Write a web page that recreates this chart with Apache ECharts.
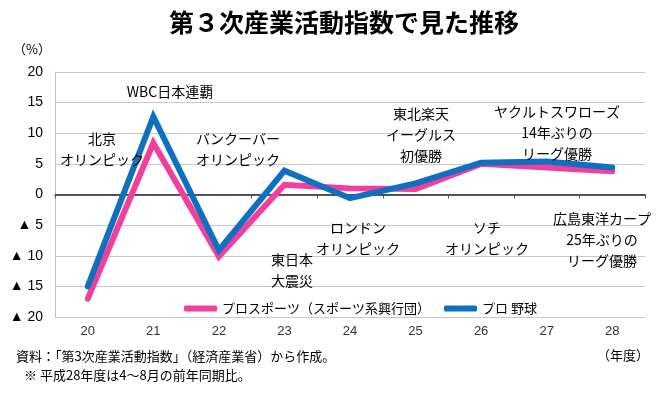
<!DOCTYPE html>
<html><head><meta charset="utf-8">
<script src="https://cdn.jsdelivr.net/npm/echarts@6/dist/echarts.min.js"></script>
<style>html,body{margin:0;padding:0;background:#fff}#c{width:670px;height:398px}</style>
</head><body><div id="c"></div>
<script>
const categories = ['20', '21', '22', '23', '24', '25', '26', '27', '28'];
const seriesNames = ['プロスポーツ（スポーツ系興行団）', 'プロ 野球'];
const proSports = [-17.0, 8.4, -10.1, 1.6, 1.0, 0.9, 5.0, 4.4, 3.8];
const proBaseball = [-15.0, 12.7, -9.1, 3.9, -0.6, 1.8, 5.2, 5.4, 4.4];
const yMin = -20, yMax = 20, yStep = 5;
const titleText = '第３次産業活動指数で見た推移';
const yUnit = '（%）';
const xUnit = '（年度）';
const notes = ['資料：「第3次産業活動指数」（経済産業省）から作成。', '※ 平成28年度は4〜8月の前年同期比。'];
const annotations = [
  ['WBC日本連覇', 170, 92],
  ['北京\nオリンピック', 102, 149],
  ['バンクーバー\nオリンピック', 238, 149],
  ['東日本\n大震災', 292, 270],
  ['ロンドン\nオリンピック', 358, 238],
  ['東北楽天\nイーグルス\n初優勝', 421, 135],
  ['ソチ\nオリンピック', 487, 238],
  ['ヤクルトスワローズ\n14年ぶりの\nリーグ優勝', 557, 133],
  ['広島東洋カープ\n25年ぶりの\nリーグ優勝', 602, 240]
];

const JP = '"Noto Sans CJK JP", sans-serif';
const NUM = '"Liberation Sans", "Noto Sans CJK JP", sans-serif';
const chart = echarts.init(document.getElementById('c'), null, {renderer: 'canvas'});

const graphics = [
  {type: 'text', x: 344, y: 22, style: {text: titleText, font: 'bold 25px ' + JP, fill: '#000', align: 'center', verticalAlign: 'middle'}},
  {type: 'text', x: 32, y: 49, style: {text: yUnit, font: '13px ' + JP, fill: '#000', align: 'center', verticalAlign: 'middle'}},
  {type: 'text', x: 623, y: 355, style: {text: xUnit, font: '13px ' + JP, fill: '#000', align: 'center', verticalAlign: 'middle'}},
  {type: 'text', x: 16, y: 356, style: {text: notes[0], font: '13px ' + JP, fill: '#000', align: 'left', verticalAlign: 'middle'}},
  {type: 'text', x: 24, y: 375, style: {text: notes[1], font: '13px ' + JP, fill: '#000', align: 'left', verticalAlign: 'middle'}}
];
annotations.forEach(a => graphics.push({
  type: 'text', x: a[1], y: a[2], z: 100,
  style: {text: a[0], font: '14px ' + JP, fill: '#000', align: 'center', verticalAlign: 'middle', lineHeight: 21}
}));

chart.setOption({
  animation: false,
  backgroundColor: '#fff',
  grid: {left: 55, right: 25, top: 72, bottom: 81, containLabel: false},
  legend: {
    data: seriesNames, left: 179, top: 297, icon: 'roundRect',
    itemWidth: 33, itemHeight: 6, itemGap: 14,
    textStyle: {fontSize: 13, fontFamily: JP, color: '#000'}
  },
  xAxis: [
    {type: 'category', data: categories, position: 'bottom', boundaryGap: true,
     axisLine: {show: false, onZero: false}, axisTick: {show: false},
     axisLabel: {margin: 8, fontSize: 13, fontFamily: NUM, color: '#333'}},
    {type: 'category', data: categories, position: 'top', boundaryGap: true,
     axisLine: {show: true, onZero: true, lineStyle: {color: '#222', width: 1.5}},
     axisTick: {show: true, inside: true, length: 4, lineStyle: {color: '#555'}},
     axisLabel: {show: false}}
  ],
  yAxis: {
    type: 'value', min: yMin, max: yMax, interval: yStep,
    axisLine: {show: true, lineStyle: {color: '#bfbfbf'}},
    axisTick: {show: false},
    splitLine: {show: true, lineStyle: {color: '#c8c8c8', width: 1}},
    axisLabel: {margin: 12, fontSize: 14, fontFamily: NUM, color: '#000',
      formatter: v => v < 0 ? '▲ ' + (-v) : String(v)}
  },
  series: [
    {name: seriesNames[0], type: 'line', xAxisIndex: 0, data: proSports, showSymbol: false, symbol: 'none',
     color: '#f23f9b', lineStyle: {width: 6, color: '#f23f9b', cap: 'round', join: 'miter'}, z: 3},
    {name: seriesNames[1], type: 'line', xAxisIndex: 0, data: proBaseball, showSymbol: false, symbol: 'none',
     color: '#0f6fc0', lineStyle: {width: 6, color: '#0f6fc0', cap: 'round', join: 'miter'}, z: 4}
  ],
  graphic: graphics
});
</script></body></html>
